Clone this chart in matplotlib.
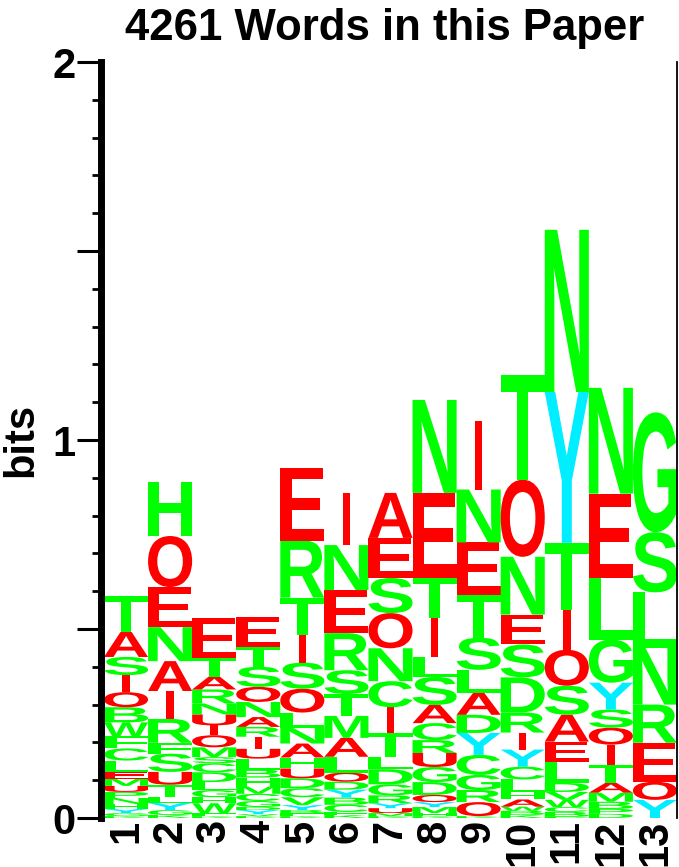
import matplotlib
matplotlib.use("Agg")
import matplotlib.pyplot as plt
from matplotlib.textpath import TextPath
from matplotlib.patches import PathPatch
from matplotlib.font_manager import FontProperties
from matplotlib.transforms import Affine2D
from matplotlib.ticker import FixedLocator, MultipleLocator

plt.rcParams['font.family'] = ['Liberation Sans', 'DejaVu Sans']
plt.rcParams['font.weight'] = 'bold'

title = "4261 Words in this Paper"
positions = list(range(1, 14))

# letters of each position, bottom to top, with their heights in bits
col1_letters = "KGYHNPUMELCFWBOISAT"
col1_bits = [.005, .008, .011, .013, .016, .016, .016, .019, .019, .029, .032, .032, .037, .040, .040, .045, .048, .066, .095]
col2_letters = "KGYLTUSFRIANEOH"
col2_bits = [.008, .013, .019, .016, .032, .034, .048, .029, .063, .074, .079, .090, .106, .135, .143]
col3_letters = "KFWHGLDCSMOIUNRATE"
col3_bits = [.005, .008, .026, .016, .019, .021, .026, .024, .016, .026, .032, .026, .029, .029, .037, .034, .048, .108]
col4_letters = "KVYDGCMHBLUIRANOSTE"
col4_bits = [.005, .005, .011, .008, .016, .019, .019, .024, .021, .029, .026, .032, .026, .026, .040, .040, .053, .053, .079]
col5_letters = "KFBYVCDUHANLOSITRE"
col5_bits = [.005, .008, .008, .013, .021, .024, .026, .026, .029, .037, .042, .040, .063, .069, .074, .098, .151, .193]
col6_letters = "KFCBYDOLAMTSRENI"
col6_bits = [.008, .008, .019, .019, .021, .021, .024, .042, .050, .058, .058, .063, .098, .114, .119, .138]
col7_letters = "KMUYRGDLTICNOSEA"
col7_bits = [.005, .008, .013, .013, .021, .029, .040, .032, .063, .069, .069, .087, .093, .093, .106, .119]
col8_letters = "KHMYODGURCASLITEN"
col8_bits = [.005, .008, .016, .013, .019, .034, .040, .037, .034, .045, .048, .074, .053, .103, .106, .225, .246]
col9_letters = "KORGCYDALSTENI"
col9_bits = [.005, .037, .032, .040, .053, .058, .048, .058, .061, .085, .114, .138, .140, .180]
col10_letters = "KBWAHLCYIRDSENOT"
col10_bits = [.008, .011, .011, .019, .021, .032, .034, .045, .045, .053, .093, .087, .079, .153, .204, .278]
col11_letters = "PBCWVDLEASOITYN"
col11_bits = [.003, .013, .013, .019, .021, .024, .056, .053, .071, .077, .095, .106, .177, .399, .429]
col12_letters = "DPBMATIOSYGLEN"
col12_bits = [.011, .013, .019, .024, .026, .048, .053, .045, .048, .071, .114, .164, .222, .280]
col13_letters = "YOERNLSG"
col13_bits = [.048, .048, .103, .101, .151, .146, .159, .317]

all_letters = [col1_letters, col2_letters, col3_letters, col4_letters, col5_letters,
               col6_letters, col7_letters, col8_letters, col9_letters, col10_letters,
               col11_letters, col12_letters, col13_letters]
all_bits = [col1_bits, col2_bits, col3_bits, col4_bits, col5_bits, col6_bits, col7_bits,
            col8_bits, col9_bits, col10_bits, col11_bits, col12_bits, col13_bits]

GREEN = "#00FF00"
RED = "#FF0000"
CYAN = "#00EEFF"


def letter_color(ch):
    if ch in "AEIOU":
        return RED
    if ch == "Y":
        return CYAN
    return GREEN


glyph_font = FontProperties(family="Liberation Sans", weight="bold")


def draw_letter(ax, ch, xc, y0, h):
    tp = TextPath((0, 0), ch, size=1, prop=glyph_font)
    bb = tp.get_extents()
    w = 0.17 if ch == "I" else 1.0
    tr = Affine2D().translate(-bb.x0, -bb.y0).scale(w / bb.width, h / bb.height).translate(xc - w / 2, y0)
    ax.add_patch(PathPatch(tr.transform_path(tp), fc=letter_color(ch), ec="none", lw=0))


W, H = 679, 867
fig = plt.figure(figsize=(W / 100, H / 100), dpi=100)
ax = fig.add_axes([104 / W, (H - 818) / H, 573 / W, 756 / H])

for pos, letters, heights in zip(positions, all_letters, all_bits):
    base = 0.0
    for ch, h in zip(letters, heights):
        draw_letter(ax, ch, pos, base, h)
        base += h

ax.set_xlim(0.5, 13.5)
ax.set_ylim(0, 2)

ax.spines['top'].set_visible(False)
ax.spines['bottom'].set_visible(False)
ax.spines['left'].set_linewidth(5)
ax.spines['left'].set_position(('outward', 2.5))
ax.spines['right'].set_linewidth(1.3)

ax.yaxis.set_major_locator(FixedLocator([0, 0.5, 1, 1.5, 2]))
ax.set_yticklabels(['0', '', '1', '', '2'])
ax.yaxis.set_minor_locator(MultipleLocator(0.1))
ax.tick_params(axis='y', which='major', length=17, width=2.2, labelsize=30, pad=1)
ax.tick_params(axis='y', which='minor', length=6.5, width=2.0)

ax.set_xticks(positions)
ax.set_xticklabels([str(p) for p in positions], rotation=90)
ax.tick_params(axis='x', length=0, labelsize=30, pad=1)

ax.set_ylabel("bits", fontsize=30, fontweight='bold')
ax.yaxis.set_label_coords(-0.11, 0.5)
ax.set_title(title, fontsize=31.5, fontweight='bold', pad=16, x=0.49)

fig.savefig("out.png", dpi=100)
